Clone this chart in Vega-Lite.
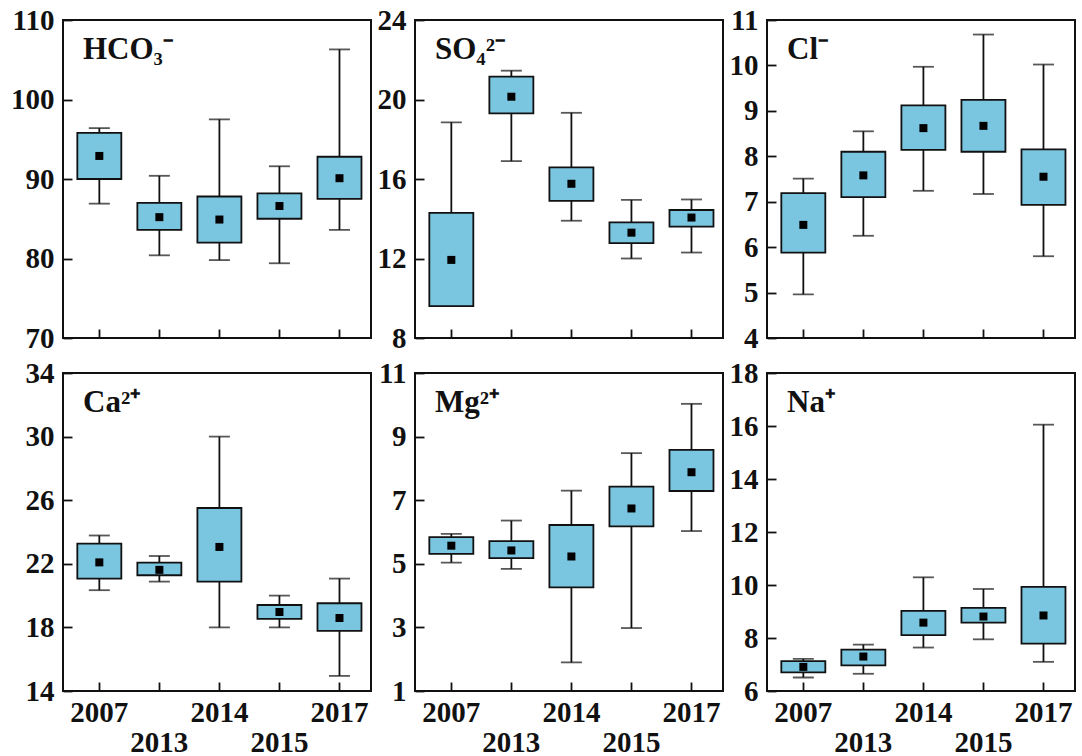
{
  "$schema": "https://vega.github.io/schema/vega-lite/v6.json",
  "background": "white",
  "padding": {"left": 9, "top": 5, "right": 5, "bottom": 5},
  "datasets": {
    "d": [
      {"ion": "HCO3", "year": "2007", "min": 86.9, "q1": 90.0, "q3": 95.8, "max": 96.4, "mean": 92.9},
      {"ion": "HCO3", "year": "2013", "min": 80.4, "q1": 83.6, "q3": 87.0, "max": 90.4, "mean": 85.2},
      {"ion": "HCO3", "year": "2014", "min": 79.8, "q1": 82.0, "q3": 87.8, "max": 97.5, "mean": 84.9},
      {"ion": "HCO3", "year": "2015", "min": 79.4, "q1": 85.0, "q3": 88.2, "max": 91.6, "mean": 86.6},
      {"ion": "HCO3", "year": "2017", "min": 83.6, "q1": 87.5, "q3": 92.8, "max": 106.3, "mean": 90.1},
      {"ion": "SO4", "year": "2007", "min": 9.6, "q1": 9.6, "q3": 14.3, "max": 18.85, "mean": 11.93},
      {"ion": "SO4", "year": "2013", "min": 16.9, "q1": 19.3, "q3": 21.15, "max": 21.45, "mean": 20.14},
      {"ion": "SO4", "year": "2014", "min": 13.9, "q1": 14.9, "q3": 16.58, "max": 19.33, "mean": 15.76},
      {"ion": "SO4", "year": "2015", "min": 12.0, "q1": 12.77, "q3": 13.82, "max": 14.95, "mean": 13.3},
      {"ion": "SO4", "year": "2017", "min": 12.3, "q1": 13.6, "q3": 14.44, "max": 14.97, "mean": 14.06},
      {"ion": "Cl", "year": "2007", "min": 4.96, "q1": 5.88, "q3": 7.19, "max": 7.51, "mean": 6.49},
      {"ion": "Cl", "year": "2013", "min": 6.25, "q1": 7.1, "q3": 8.1, "max": 8.55, "mean": 7.58},
      {"ion": "Cl", "year": "2014", "min": 7.24, "q1": 8.14, "q3": 9.12, "max": 9.97, "mean": 8.62},
      {"ion": "Cl", "year": "2015", "min": 7.17, "q1": 8.1, "q3": 9.24, "max": 10.68, "mean": 8.67},
      {"ion": "Cl", "year": "2017", "min": 5.8, "q1": 6.93, "q3": 8.15, "max": 10.02, "mean": 7.55},
      {"ion": "Ca", "year": "2007", "min": 20.34, "q1": 21.07, "q3": 23.27, "max": 23.78, "mean": 22.09},
      {"ion": "Ca", "year": "2013", "min": 20.88, "q1": 21.28, "q3": 22.07, "max": 22.49, "mean": 21.62},
      {"ion": "Ca", "year": "2014", "min": 18.0, "q1": 20.88, "q3": 25.51, "max": 30.0, "mean": 23.06},
      {"ion": "Ca", "year": "2015", "min": 18.0, "q1": 18.53, "q3": 19.41, "max": 20.0, "mean": 18.97},
      {"ion": "Ca", "year": "2017", "min": 14.95, "q1": 17.78, "q3": 19.52, "max": 21.07, "mean": 18.59},
      {"ion": "Mg", "year": "2007", "min": 5.04, "q1": 5.31, "q3": 5.84, "max": 5.94, "mean": 5.57},
      {"ion": "Mg", "year": "2013", "min": 4.84, "q1": 5.18, "q3": 5.71, "max": 6.36, "mean": 5.42},
      {"ion": "Mg", "year": "2014", "min": 1.9, "q1": 4.26, "q3": 6.22, "max": 7.3, "mean": 5.23},
      {"ion": "Mg", "year": "2015", "min": 2.98, "q1": 6.18, "q3": 7.43, "max": 8.48, "mean": 6.74},
      {"ion": "Mg", "year": "2017", "min": 6.03, "q1": 7.29, "q3": 8.58, "max": 10.03, "mean": 7.88},
      {"ion": "Na", "year": "2007", "min": 6.51, "q1": 6.7, "q3": 7.13, "max": 7.21, "mean": 6.91},
      {"ion": "Na", "year": "2013", "min": 6.65, "q1": 6.97, "q3": 7.56, "max": 7.75, "mean": 7.3},
      {"ion": "Na", "year": "2014", "min": 7.64, "q1": 8.11, "q3": 9.02, "max": 10.29, "mean": 8.58},
      {"ion": "Na", "year": "2015", "min": 7.95, "q1": 8.58, "q3": 9.14, "max": 9.85, "mean": 8.81},
      {"ion": "Na", "year": "2017", "min": 7.1, "q1": 7.79, "q3": 9.93, "max": 16.05, "mean": 8.85}
    ]
  },
  "concat": [
    {
      "width": 308, "height": 318,
      "title": {"text": "HCO₃⁻"},
      "data": {"name": "d"},
      "transform": [{"filter": "datum.ion == 'HCO3'"}],
      "encoding": {"x": {"field": "year", "type": "ordinal", "title": null, "scale": {"paddingInner": 0.27, "paddingOuter": 0.2, "align": 0.6}, "axis": {"labels": false}}},
      "layer": [
        {"mark": {"type": "rule", "strokeWidth": 1.8, "color": "#111"}, "encoding": {"y": {"field": "min", "type": "quantitative", "title": null, "scale": {"domain": [70, 110], "nice": false, "zero": false}, "axis": {"values": [70, 80, 90, 100, 110], "labelFont": "Liberation Serif", "labelFontSize": 29, "labelFontWeight": "bold", "labelPadding": 18}}, "y2": {"field": "max"}}},
        {"mark": {"type": "tick", "size": 21, "thickness": 1.8, "color": "#111"}, "encoding": {"y": {"field": "min", "type": "quantitative", "title": null}}},
        {"mark": {"type": "tick", "size": 21, "thickness": 1.8, "color": "#111"}, "encoding": {"y": {"field": "max", "type": "quantitative", "title": null}}},
        {"mark": {"type": "bar", "size": 44, "fill": "#7AC5E0", "stroke": "#111", "strokeWidth": 1.8}, "encoding": {"y": {"field": "q1", "type": "quantitative", "title": null}, "y2": {"field": "q3"}}},
        {"mark": {"type": "point", "shape": "square", "filled": true, "size": 64, "color": "#000", "opacity": 1}, "encoding": {"y": {"field": "mean", "type": "quantitative", "title": null}}}
      ]
    },
    {
      "width": 308, "height": 318,
      "title": {"text": "SO₄²⁻"},
      "data": {"name": "d"},
      "transform": [{"filter": "datum.ion == 'SO4'"}],
      "encoding": {"x": {"field": "year", "type": "ordinal", "title": null, "scale": {"paddingInner": 0.27, "paddingOuter": 0.2, "align": 0.6}, "axis": {"labels": false}}},
      "layer": [
        {"mark": {"type": "rule", "strokeWidth": 1.8, "color": "#111"}, "encoding": {"y": {"field": "min", "type": "quantitative", "title": null, "scale": {"domain": [8, 24], "nice": false, "zero": false}, "axis": {"values": [8, 12, 16, 20, 24], "labelFont": "Liberation Serif", "labelFontSize": 29, "labelFontWeight": "bold", "labelPadding": 18}}, "y2": {"field": "max"}}},
        {"mark": {"type": "tick", "size": 21, "thickness": 1.8, "color": "#111"}, "encoding": {"y": {"field": "min", "type": "quantitative", "title": null}}},
        {"mark": {"type": "tick", "size": 21, "thickness": 1.8, "color": "#111"}, "encoding": {"y": {"field": "max", "type": "quantitative", "title": null}}},
        {"mark": {"type": "bar", "size": 44, "fill": "#7AC5E0", "stroke": "#111", "strokeWidth": 1.8}, "encoding": {"y": {"field": "q1", "type": "quantitative", "title": null}, "y2": {"field": "q3"}}},
        {"mark": {"type": "point", "shape": "square", "filled": true, "size": 64, "color": "#000", "opacity": 1}, "encoding": {"y": {"field": "mean", "type": "quantitative", "title": null}}}
      ]
    },
    {
      "width": 308, "height": 318,
      "title": {"text": "Cl⁻"},
      "data": {"name": "d"},
      "transform": [{"filter": "datum.ion == 'Cl'"}],
      "encoding": {"x": {"field": "year", "type": "ordinal", "title": null, "scale": {"paddingInner": 0.27, "paddingOuter": 0.2, "align": 0.6}, "axis": {"labels": false}}},
      "layer": [
        {"mark": {"type": "rule", "strokeWidth": 1.8, "color": "#111"}, "encoding": {"y": {"field": "min", "type": "quantitative", "title": null, "scale": {"domain": [4, 11], "nice": false, "zero": false}, "axis": {"values": [4, 5, 6, 7, 8, 9, 10, 11], "labelFont": "Liberation Serif", "labelFontSize": 29, "labelFontWeight": "bold", "labelPadding": 18}}, "y2": {"field": "max"}}},
        {"mark": {"type": "tick", "size": 21, "thickness": 1.8, "color": "#111"}, "encoding": {"y": {"field": "min", "type": "quantitative", "title": null}}},
        {"mark": {"type": "tick", "size": 21, "thickness": 1.8, "color": "#111"}, "encoding": {"y": {"field": "max", "type": "quantitative", "title": null}}},
        {"mark": {"type": "bar", "size": 44, "fill": "#7AC5E0", "stroke": "#111", "strokeWidth": 1.8}, "encoding": {"y": {"field": "q1", "type": "quantitative", "title": null}, "y2": {"field": "q3"}}},
        {"mark": {"type": "point", "shape": "square", "filled": true, "size": 64, "color": "#000", "opacity": 1}, "encoding": {"y": {"field": "mean", "type": "quantitative", "title": null}}}
      ]
    },
    {
      "width": 308, "height": 318,
      "title": {"text": "Ca²⁺"},
      "data": {"name": "d"},
      "transform": [{"filter": "datum.ion == 'Ca'"}],
      "encoding": {"x": {"field": "year", "type": "ordinal", "title": null, "scale": {"paddingInner": 0.27, "paddingOuter": 0.2, "align": 0.6}, "axis": {"labelExpr": "(datum.value == '2013' || datum.value == '2015') ? ['', datum.label] : datum.label", "labelAngle": 0, "labelLineHeight": 30, "labelBaseline": "top", "labelOverlap": false, "labelPadding": 16, "labelFont": "Liberation Serif", "labelFontSize": 29, "labelFontWeight": "bold"}}},
      "layer": [
        {"mark": {"type": "rule", "strokeWidth": 1.8, "color": "#111"}, "encoding": {"y": {"field": "min", "type": "quantitative", "title": null, "scale": {"domain": [14, 34], "nice": false, "zero": false}, "axis": {"values": [14, 18, 22, 26, 30, 34], "labelFont": "Liberation Serif", "labelFontSize": 29, "labelFontWeight": "bold", "labelPadding": 18}}, "y2": {"field": "max"}}},
        {"mark": {"type": "tick", "size": 21, "thickness": 1.8, "color": "#111"}, "encoding": {"y": {"field": "min", "type": "quantitative", "title": null}}},
        {"mark": {"type": "tick", "size": 21, "thickness": 1.8, "color": "#111"}, "encoding": {"y": {"field": "max", "type": "quantitative", "title": null}}},
        {"mark": {"type": "bar", "size": 44, "fill": "#7AC5E0", "stroke": "#111", "strokeWidth": 1.8}, "encoding": {"y": {"field": "q1", "type": "quantitative", "title": null}, "y2": {"field": "q3"}}},
        {"mark": {"type": "point", "shape": "square", "filled": true, "size": 64, "color": "#000", "opacity": 1}, "encoding": {"y": {"field": "mean", "type": "quantitative", "title": null}}}
      ]
    },
    {
      "width": 308, "height": 318,
      "title": {"text": "Mg²⁺"},
      "data": {"name": "d"},
      "transform": [{"filter": "datum.ion == 'Mg'"}],
      "encoding": {"x": {"field": "year", "type": "ordinal", "title": null, "scale": {"paddingInner": 0.27, "paddingOuter": 0.2, "align": 0.6}, "axis": {"labelExpr": "(datum.value == '2013' || datum.value == '2015') ? ['', datum.label] : datum.label", "labelAngle": 0, "labelLineHeight": 30, "labelBaseline": "top", "labelOverlap": false, "labelPadding": 16, "labelFont": "Liberation Serif", "labelFontSize": 29, "labelFontWeight": "bold"}}},
      "layer": [
        {"mark": {"type": "rule", "strokeWidth": 1.8, "color": "#111"}, "encoding": {"y": {"field": "min", "type": "quantitative", "title": null, "scale": {"domain": [1, 11], "nice": false, "zero": false}, "axis": {"values": [1, 3, 5, 7, 9, 11], "labelFont": "Liberation Serif", "labelFontSize": 29, "labelFontWeight": "bold", "labelPadding": 18}}, "y2": {"field": "max"}}},
        {"mark": {"type": "tick", "size": 21, "thickness": 1.8, "color": "#111"}, "encoding": {"y": {"field": "min", "type": "quantitative", "title": null}}},
        {"mark": {"type": "tick", "size": 21, "thickness": 1.8, "color": "#111"}, "encoding": {"y": {"field": "max", "type": "quantitative", "title": null}}},
        {"mark": {"type": "bar", "size": 44, "fill": "#7AC5E0", "stroke": "#111", "strokeWidth": 1.8}, "encoding": {"y": {"field": "q1", "type": "quantitative", "title": null}, "y2": {"field": "q3"}}},
        {"mark": {"type": "point", "shape": "square", "filled": true, "size": 64, "color": "#000", "opacity": 1}, "encoding": {"y": {"field": "mean", "type": "quantitative", "title": null}}}
      ]
    },
    {
      "width": 308, "height": 318,
      "title": {"text": "Na⁺"},
      "data": {"name": "d"},
      "transform": [{"filter": "datum.ion == 'Na'"}],
      "encoding": {"x": {"field": "year", "type": "ordinal", "title": null, "scale": {"paddingInner": 0.27, "paddingOuter": 0.2, "align": 0.6}, "axis": {"labelExpr": "(datum.value == '2013' || datum.value == '2015') ? ['', datum.label] : datum.label", "labelAngle": 0, "labelLineHeight": 30, "labelBaseline": "top", "labelOverlap": false, "labelPadding": 16, "labelFont": "Liberation Serif", "labelFontSize": 29, "labelFontWeight": "bold"}}},
      "layer": [
        {"mark": {"type": "rule", "strokeWidth": 1.8, "color": "#111"}, "encoding": {"y": {"field": "min", "type": "quantitative", "title": null, "scale": {"domain": [6, 18], "nice": false, "zero": false}, "axis": {"values": [6, 8, 10, 12, 14, 16, 18], "labelFont": "Liberation Serif", "labelFontSize": 29, "labelFontWeight": "bold", "labelPadding": 18}}, "y2": {"field": "max"}}},
        {"mark": {"type": "tick", "size": 21, "thickness": 1.8, "color": "#111"}, "encoding": {"y": {"field": "min", "type": "quantitative", "title": null}}},
        {"mark": {"type": "tick", "size": 21, "thickness": 1.8, "color": "#111"}, "encoding": {"y": {"field": "max", "type": "quantitative", "title": null}}},
        {"mark": {"type": "bar", "size": 44, "fill": "#7AC5E0", "stroke": "#111", "strokeWidth": 1.8}, "encoding": {"y": {"field": "q1", "type": "quantitative", "title": null}, "y2": {"field": "q3"}}},
        {"mark": {"type": "point", "shape": "square", "filled": true, "size": 64, "color": "#000", "opacity": 1}, "encoding": {"y": {"field": "mean", "type": "quantitative", "title": null}}}
      ]
    }
  ],
  "columns": 3,
  "spacing": {"row": 35, "column": 44},
  "bounds": "flush",
  "config": {
    "font": "Liberation Serif",
    "view": {"stroke": "#111", "strokeWidth": 2},
    "axis": {"grid": false, "domain": false, "labelFont": "Liberation Serif", "labelFontWeight": "bold", "labelFontSize": 29, "labelColor": "#111", "tickColor": "#111", "tickWidth": 1.8, "tickSize": -9, "labelPadding": 14},
    "title": {"font": "Liberation Serif", "fontWeight": "bold", "fontSize": 31, "anchor": "start", "color": "#111", "offset": 0, "dx": 20, "dy": 64, "baseline": "alphabetic", "frame": "group"}
  }
}
